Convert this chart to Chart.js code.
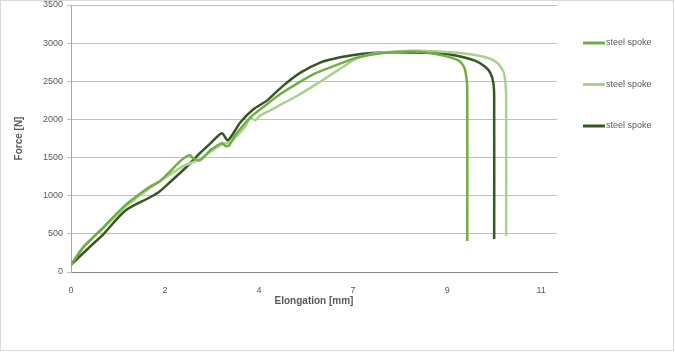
<!DOCTYPE html>
<html>
<head>
<meta charset="utf-8">
<script src="https://cdn.jsdelivr.net/npm/chart.js@4/dist/chart.umd.min.js"></script>
<style>
  html, body { margin: 0; padding: 0; background: #fff; }
  #wrap { width: 675px; height: 354px; }
</style>
</head>
<body>
<div id="wrap"><canvas id="myChart" width="675" height="354"></canvas></div>
<script>
// series labels + colours (Excel greens)
const seriesLabels = ['steel spoke', 'steel spoke', 'steel spoke'];
const seriesColors = ['#70ad47', '#a9d18e', '#375623'];

// [elongation, force]
const spoke1 = [[0,95],[0.3,330],[0.75,580],[1.26,870],[1.85,1120],[2.08,1190],[2.32,1320],[2.55,1450],[2.72,1520],[2.78,1530],[2.86,1490],[3.02,1465],[3.25,1590],[3.53,1690],[3.62,1650],[3.7,1660],[3.84,1790],[4.07,1950],[4.26,2060],[4.49,2160],[4.89,2330],[5.29,2470],[5.7,2600],[6.06,2680],[6.69,2810],[7.16,2862],[7.6,2885],[8.0,2890],[8.4,2870],[8.71,2836],[8.95,2800],[9.1,2760],[9.2,2680],[9.25,2550],[9.27,2400],[9.27,407]];
const spoke2 = [[0,95],[0.3,340],[0.75,570],[1.26,850],[1.85,1100],[2.32,1280],[2.67,1400],[2.86,1440],[3.02,1480],[3.37,1620],[3.58,1680],[3.72,1700],[4.07,1900],[4.19,2020],[4.31,1990],[4.42,2050],[4.73,2140],[5.29,2310],[5.76,2470],[6.23,2640],[6.69,2800],[7.16,2870],[7.7,2895],[8.17,2900],[8.87,2880],[9.45,2845],[9.81,2795],[9.99,2730],[10.12,2620],[10.16,2500],[10.18,2300],[10.18,474]];
const spoke3 = [[0,95],[0.44,330],[0.75,490],[1.26,800],[1.85,980],[2.08,1060],[2.32,1180],[2.67,1360],[3.02,1560],[3.25,1680],[3.53,1820],[3.67,1725],[3.96,1960],[4.26,2130],[4.59,2250],[4.96,2440],[5.36,2610],[5.83,2745],[6.3,2815],[6.83,2862],[7.47,2880],[8.17,2875],[8.64,2868],[9.03,2835],[9.45,2770],[9.69,2690],[9.81,2610],[9.88,2480],[9.9,2300],[9.9,433]];

// x axis in Excel shows rounded labels for a 2.2 step
const xTickValues = [0, 2.2, 4.4, 6.6, 8.8, 11];
const xTickLabels = ['0', '2', '4', '7', '9', '11'];
const xMax = 11.37;
const yMax = 3500;
const yStep = 500;

const allSeries = [spoke1, spoke2, spoke3];
const FONT = 'Liberation Sans';

const frameAndLegend = {
  id: 'frameAndLegend',
  beforeDraw(chart) {
    const c = chart.ctx;
    c.save();
    c.strokeStyle = '#d9d9d9';
    c.lineWidth = 1;
    c.strokeRect(0.5, 0.5, 673, 350);
    c.restore();
  },
  afterDraw(chart) {
    const c = chart.ctx;
    c.save();
    c.font = '9px "' + FONT + '"';
    c.textBaseline = 'middle';
    chart.data.datasets.forEach((ds, i) => {
      const y = 43 + i * 41.5;
      c.strokeStyle = ds.borderColor;
      c.lineWidth = 3;
      c.beginPath();
      c.moveTo(583, y);
      c.lineTo(605, y);
      c.stroke();
      c.fillStyle = '#595959';
      c.fillText(ds.label, 606, y);
    });
    c.restore();
  }
};

new Chart(document.getElementById('myChart').getContext('2d'), {
  type: 'line',
  data: {
    datasets: allSeries.map((s, i) => ({
      label: seriesLabels[i],
      data: s.map(p => ({ x: p[0], y: p[1] })),
      borderColor: seriesColors[i],
      backgroundColor: seriesColors[i],
      borderWidth: 2.5,
      pointRadius: 0,
      tension: 0.25,
      fill: false
    }))
  },
  options: {
    responsive: false,
    animation: false,
    layout: { padding: { top: 5, right: 118, left: 0, bottom: 0 } },
    plugins: { legend: { display: false }, tooltip: { enabled: false } },
    scales: {
      x: {
        type: 'linear',
        min: 0,
        max: xMax,
        afterFit: s => { s.height = 82; },
        afterBuildTicks: s => { s.ticks = xTickValues.map(v => ({ value: v })); },
        grid: { display: false },
        border: { color: '#868686', width: 1 },
        ticks: {
          color: '#595959',
          font: { family: FONT, size: 9 },
          padding: 5,
          maxRotation: 0,
          callback: (v, i) => xTickLabels[i]
        },
        title: {
          display: true,
          text: 'Elongation [mm]',
          color: '#595959',
          font: { family: FONT, size: 10, weight: 'bold' },
          padding: { top: 0, bottom: 47 }
        }
      },
      y: {
        min: 0,
        max: yMax,
        afterFit: s => { s.width = 71; s.paddingTop = 0; s.paddingBottom = 0; },
        grid: { color: '#bfbfbf', lineWidth: 1, tickLength: 4, drawTicks: true },
        border: { color: '#a6a6a6', width: 1 },
        ticks: {
          stepSize: yStep,
          color: '#595959',
          font: { family: FONT, size: 9 },
          padding: 4,
          callback: v => String(v)
        },
        title: {
          display: true,
          text: 'Force [N]',
          color: '#595959',
          font: { family: FONT, size: 10, weight: 'bold' },
          padding: { top: 13, bottom: 0 }
        }
      }
    }
  },
  plugins: [frameAndLegend]
});
</script>
</body>
</html>
